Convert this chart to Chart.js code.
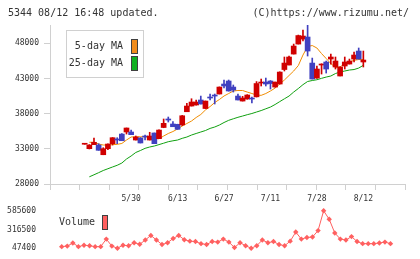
<!DOCTYPE html>
<html>
<head>
<meta charset="utf-8">
<script src="https://cdn.jsdelivr.net/npm/chart.js@4.4.0/dist/chart.umd.min.js"></script>
<style>
  html, body { margin: 0; padding: 0; background: #fff; }
  #wrap { position: relative; width: 420px; height: 259px; overflow: hidden;
          font-family: 'DejaVu Sans Mono', monospace; color: #333; }
  .head { position: absolute; top: 7px; font-size: 10px; line-height: 12px; white-space: pre; }
  #main { position: absolute; left: 0; top: 0; }
  #vol { position: absolute; left: 0; top: 200px; }
</style>
</head>
<body>
<div id="wrap">
  <canvas id="main" width="420" height="205"></canvas>
  <canvas id="vol" width="420" height="59"></canvas>
  <div class="head" style="left:8px">5344 08/12 16:48 updated.</div>
  <div class="head" style="right:11px">(C)https://www.rizumu.net/</div>
</div>
<script>
// Trading days shown on the chart
const dates = [
  '5/16', '5/19', '5/20', '5/21', '5/22', '5/23', '5/26', '5/27', '5/28', '5/29', '5/30',
  '6/2', '6/3', '6/4', '6/5', '6/6', '6/9', '6/10', '6/11', '6/12', '6/13',
  '6/16', '6/17', '6/18', '6/19', '6/20', '6/23', '6/24', '6/25', '6/26', '6/27', '6/30',
  '7/1', '7/2', '7/3', '7/4', '7/7', '7/8', '7/9', '7/10', '7/11',
  '7/14', '7/15', '7/16', '7/17', '7/18', '7/22', '7/23', '7/24', '7/25', '7/28',
  '7/29', '7/30', '7/31', '8/1', '8/4', '8/5', '8/6', '8/7', '8/8', '8/12'
];
const tickDates = ['5/30', '6/13', '6/27', '7/11', '7/28', '8/12'];
const priceTicks = [28000, 33000, 38000, 43000, 48000];
const volumeTicks = [47400, 316500, 585600];

// Daily prices
const opens = [
  33650, 33020, 33590, 33540, 32160, 33020, 33730, 34400, 35100, 35390, 35390,
  34250, 34540, 34820, 34250, 35250, 34440, 36030, 37240, 36530, 36480,
  36400, 38270, 39080, 39230, 39940, 38730, 40360, 40650, 40790, 42210, 42640,
  41780, 40500, 39790, 40080, 40220, 40390, 42350, 42490, 42640,
  41780, 42210, 44270, 44910, 46470, 47890, 48600, 48890, 45190, 43060,
  44910, 45340, 45760, 44630, 43350, 44770, 45050, 45760, 46900, 45340
];
const highs = [
  33700, 33600, 34540, 33730, 33160, 33700, 34600, 34580, 35150, 35960, 35670,
  34820, 34600, 34960, 35350, 35250, 35700, 37240, 37520, 36880, 36500,
  37750, 39470, 40120, 39940, 40500, 39800, 40790, 40790, 41800, 42780, 42780,
  42070, 40790, 40460, 40700, 40360, 42560, 42920, 43060, 42700,
  42500, 43950, 46050, 46190, 47890, 49170, 49880, 50590, 45900, 44770,
  45090, 45480, 46470, 46050, 44650, 46050, 45760, 46760, 47330, 46900
];
const lows = [
  33650, 32980, 33590, 32790, 32160, 32870, 33540, 33730, 34150, 35100, 35010,
  34250, 33830, 34250, 34250, 33730, 34440, 36000, 36810, 36140, 35770,
  36300, 38270, 39080, 39200, 39370, 38700, 39940, 39370, 40790, 41640, 41200,
  41070, 39940, 39790, 40050, 39510, 40360, 41930, 41930, 41500,
  41780, 42200, 44060, 44910, 46470, 47890, 48320, 46190, 42920, 43000,
  43630, 43770, 45050, 44340, 43350, 44340, 45050, 45340, 45760, 44630
];
const closes = [
  33680, 33540, 33930, 32790, 33020, 33680, 34580, 34250, 34150, 35960, 35010,
  34680, 33830, 34680, 34820, 33730, 35670, 36620, 37090, 36140, 35770,
  37700, 39080, 39650, 39650, 39370, 39790, 40220, 40500, 41780, 41930, 41220,
  41360, 39940, 40220, 40650, 40080, 42280, 42490, 42210, 42280,
  42490, 43910, 45190, 46050, 47610, 49100, 49030, 46900, 42920, 44340,
  45050, 44340, 46050, 45480, 44630, 45340, 45480, 46330, 45760, 45620
];

// Moving averages as drawn on the chart
const ma5 = [
  null, 33930, 33930, 33680, 33540, 33540, 33590, 33640, 33760, 34250, 34680,
  34710, 34710, 34710, 34680, 34470, 34420, 34820, 35180, 35460, 35820,
  36240, 36600, 36950, 37450, 37880, 38520, 39010, 39580, 40010, 40510, 40860,
  41220, 41290, 41290, 41070, 40860, 40650, 40600, 40860, 41220,
  41640, 42210, 42780, 43420, 44060, 44840, 46330, 47540, 47680, 47330,
  46540, 45830, 45120, 44560, 44630, 45120, 45340, 45580, 45690, 45690
];
const ma25 = [
  null, 29020, 29310, 29610, 29920, 30170, 30420, 30660, 30980, 31550, 31980,
  32480, 32760, 33070, 33260, 33400, 33600, 33800, 34010, 34140, 34250,
  34490, 34680, 34960, 35180, 35390, 35600, 35900, 36100, 36380, 36740, 37050,
  37270, 37480, 37660, 37850, 38020, 38230, 38440, 38690, 38940,
  39300, 39710, 40110, 40500, 41070, 41570, 42120, 42570, 42710, 42820,
  43020, 43200, 43350, 43700, 43920, 44060, 44200, 44270, 44480, 44870
];

// Daily volume
const volume = [
  null, 69700, 77600, 122200, 69700, 90700, 82800, 69700, 69700, 178700, 77600,
  47400, 90700, 82800, 126200, 103800, 165500, 231200, 165500, 99900, 126200,
  187900, 231200, 169500, 148500, 143200, 113000, 99900, 143200, 135400, 178700, 135400,
  56600, 126200, 82800, 47400, 82800, 165500, 126200, 143200, 99900,
  82800, 148500, 279700, 178700, 201000, 208900, 300800, 585600, 463500, 266600,
  178700, 165500, 214100, 143200, 113000, 113000, 113000, 122200, 135400, 113000
];

const UP = '#d00000';
const DOWN = '#4040c0';
const GRID = '#d0d0d0';
const VOL = '#ff6060';
const xRange = { min: -1.1, max: 62.6 };
const plain = v => String(v);

Chart.defaults.font.family = "'DejaVu Sans Mono', monospace";
Chart.defaults.color = '#333';

// Legend drawn as text followed by a colour box, like the original
const boxLegend = {
  id: 'boxLegend',
  afterDraw(chart, args, opts) {
    const ctx = chart.ctx;
    const items = chart.data.datasets.filter(d => d.swatch);
    ctx.save();
    if (opts.frame) {
      const f = opts.frame;
      ctx.fillStyle = '#fff';
      ctx.fillRect(f.x, f.y, f.w, f.h);
      ctx.strokeStyle = GRID;
      ctx.lineWidth = 1;
      ctx.strokeRect(f.x + 0.5, f.y + 0.5, f.w, f.h);
    }
    ctx.font = "10px 'DejaVu Sans Mono', monospace";
    ctx.textAlign = 'right';
    ctx.textBaseline = 'middle';
    items.forEach((d, k) => {
      const y = opts.y + k * opts.rowH;
      ctx.fillStyle = '#333';
      ctx.fillText(d.label, opts.textRight, y);
      ctx.fillStyle = d.swatch;
      ctx.fillRect(opts.boxX, y - 7, opts.boxW, 15);
      ctx.strokeStyle = '#404040';
      ctx.strokeRect(opts.boxX + 0.5, y - 6.5, opts.boxW - 1, 14);
    });
    ctx.restore();
  }
};

const candleColor = opens.map((o, i) => closes[i] >= o ? UP : DOWN);

new Chart(document.getElementById('main'), {
  type: 'bar',
  data: {
    datasets: [
      {
        type: 'bar',
        label: 'body',
        data: dates.map((d, i) => ({ x: i, y: [opens[i], closes[i]] })),
        backgroundColor: candleColor,
        barThickness: 5,
        minBarLength: 1,
        grouped: false,
        order: 0
      },
      {
        type: 'bar',
        label: 'wick',
        data: dates.map((d, i) => ({ x: i, y: [lows[i], highs[i]] })),
        backgroundColor: candleColor,
        barThickness: 1,
        grouped: false,
        order: 1
      },
      {
        type: 'line',
        label: '5-day MA',
        data: dates.map((d, i) => ({ x: i, y: ma5[i] })),
        borderColor: '#f08c00',
        borderWidth: 1,
        pointRadius: 0,
        swatch: '#f08c1c',
        order: 2
      },
      {
        type: 'line',
        label: '25-day MA',
        data: dates.map((d, i) => ({ x: i, y: ma25[i] })),
        borderColor: '#10a010',
        borderWidth: 1,
        pointRadius: 0,
        swatch: '#10b020',
        order: 3
      }
    ]
  },
  options: {
    responsive: false,
    animation: false,
    layout: { padding: { left: 0, right: 15, top: 25, bottom: 0 } },
    plugins: {
      legend: { display: false },
      tooltip: { enabled: false },
      boxLegend: {
        frame: { x: 66, y: 30, w: 77, h: 47 },
        y: 46, rowH: 17, textRight: 123, boxX: 131, boxW: 7
      }
    },
    scales: {
      x: {
        type: 'linear', ...xRange, position: 'bottom', weight: 1,
        grid: { display: false, drawTicks: false },
        border: { display: false },
        afterBuildTicks: s => { s.ticks = tickDates.map(d => ({ value: dates.indexOf(d) })); },
        ticks: { callback: v => dates[v], autoSkip: false, maxRotation: 0, padding: 4, font: { size: 8 } },
        afterFit: s => { s.height = 15; }
      },
      xt: {
        type: 'linear', min: 0, max: 11, position: 'bottom', weight: 0,
        ticks: { display: false, stepSize: 1, autoSkip: false },
        grid: { drawOnChartArea: false, tickLength: 6, color: GRID },
        border: { color: GRID },
        afterFit: s => { s.height = 6; }
      },
      y: {
        min: 28000, max: 50600,
        afterBuildTicks: s => { s.ticks = priceTicks.map(v => ({ value: v })); },
        grid: { drawOnChartArea: false, tickLength: 6, color: GRID },
        border: { color: GRID },
        ticks: { padding: 5, font: { size: 8 }, callback: plain },
        afterFit: s => { s.width = 50; }
      }
    }
  },
  plugins: [boxLegend]
});

new Chart(document.getElementById('vol'), {
  type: 'line',
  data: {
    datasets: [{
      label: 'Volume',
      data: dates.map((d, i) => ({ x: i, y: volume[i] })),
      borderColor: VOL,
      backgroundColor: VOL,
      borderWidth: 1,
      pointStyle: 'rectRot',
      pointRadius: 2.7,
      pointBorderWidth: 0,
      pointBackgroundColor: VOL,
      swatch: VOL,
      clip: false
    }]
  },
  options: {
    responsive: false,
    animation: false,
    layout: { padding: { left: 0, right: 15, top: 9, bottom: 9 } },
    plugins: {
      legend: { display: false },
      tooltip: { enabled: false },
      boxLegend: { y: 22, rowH: 0, textRight: 95, boxX: 102, boxW: 6 }
    },
    scales: {
      x: { type: 'linear', ...xRange, display: false },
      y: {
        min: 47400, max: 585600,
        afterBuildTicks: s => { s.ticks = volumeTicks.map(v => ({ value: v })); },
        grid: { display: false },
        border: { display: false },
        ticks: { padding: 6, font: { size: 8 }, callback: plain },
        afterFit: s => { s.width = 50; }
      }
    }
  },
  plugins: [boxLegend]
});
</script>
</body>
</html>
